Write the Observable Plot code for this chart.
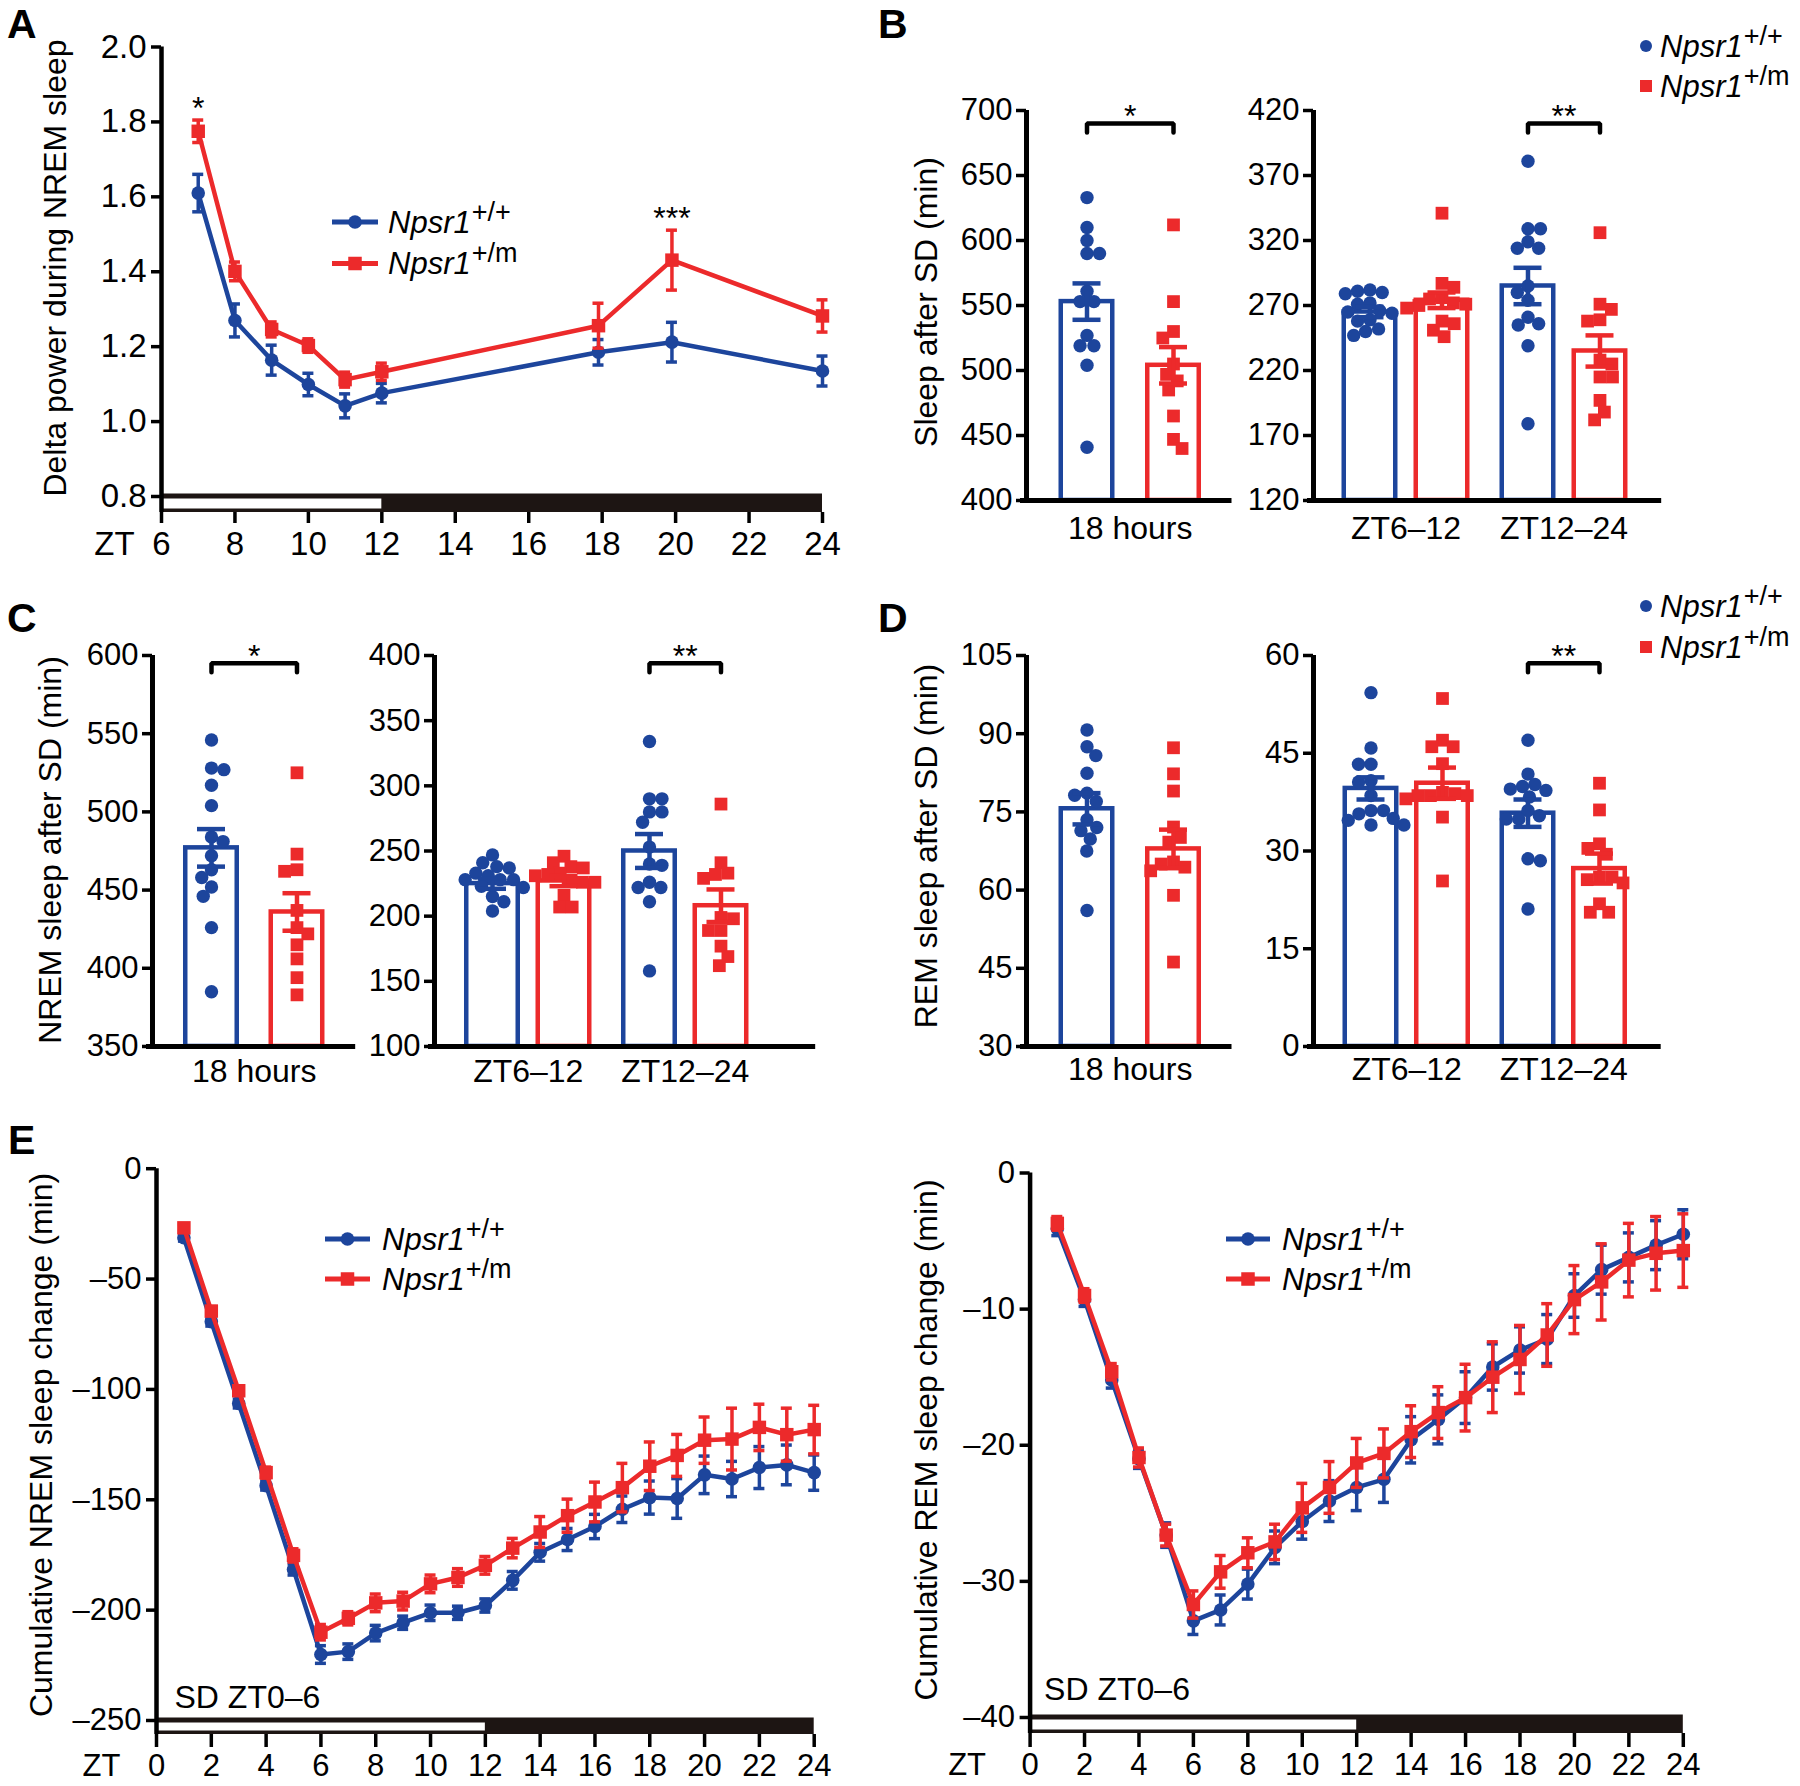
<!DOCTYPE html>
<html>
<head>
<meta charset="utf-8">
<script src="https://cdn.jsdelivr.net/npm/d3@7"></script>
<script src="https://cdn.jsdelivr.net/npm/@observablehq/plot@0.6"></script>
<style>
  html, body { margin: 0; padding: 0; background: #fff; }
  #fig { position: relative; width: 1800px; height: 1786px; overflow: hidden; background: #fff; }
  #fig svg { position: absolute; overflow: visible; }
</style>
</head>
<body>
<div id="fig"></div>
<script>
// ================= DATA =================
const genotypeBase = "Npsr1";
const genotypeSup = ["+/+", "+/m"];
const lightsOff = 12;

// Panel A: delta power during NREM sleep
const ztA = [7, 8, 9, 10, 11, 12, 17.9, 19.9, 24];
const deltaWT = [1.61, 1.27, 1.164, 1.099, 1.042, 1.076, 1.185, 1.212, 1.135];
const deltaWTsem = [0.05, 0.044, 0.04, 0.03, 0.032, 0.026, 0.034, 0.053, 0.04];
const deltaMut = [1.775, 1.401, 1.246, 1.203, 1.112, 1.133, 1.256, 1.431, 1.282];
const deltaMutSem = [0.03, 0.025, 0.02, 0.018, 0.02, 0.023, 0.06, 0.08, 0.043];
const sigA = [{zt: 7, label: "*"}, {zt: 19.9, label: "***"}];
const ticksAy = [0.8, 1.0, 1.2, 1.4, 1.6, 1.8, 2.0];
const ticksAx = [6, 8, 10, 12, 14, 16, 18, 20, 22, 24];

// Bar panel categories
const cat18 = ["18 hours"];
const catLD = ["ZT6–12", "ZT12–24"];

// Panel B: total sleep after SD (min)
const sleep18WT = [633, 610, 600, 590, 590, 561, 553, 553, 527, 519, 519, 504, 441];
const sleep18Mut = [612, 553, 530, 525, 505, 497, 492, 485, 465, 447, 440];
const sleep18Mean = [553, 504];
const sleep18Sem = [14, 14];
const sleepZT6WT = [282, 281, 280, 279, 272, 271, 266, 265, 264, 259, 258, 252, 250, 247];
const sleepZT6Mut = [341, 287, 284, 276, 275, 272, 271, 270, 268, 258, 256, 251, 246];
const sleepZT12WT = [381, 329, 329, 319, 314, 314, 285, 280, 274, 261, 256, 255, 239, 179];
const sleepZT12Mut = [326, 271, 267, 259, 258, 228, 225, 215, 215, 197, 188, 182];
const sleepLDMean = [[265, 274], [285, 235]];
const sleepLDSem = [[4, 6], [14, 12]];
const ticksB18 = [400, 450, 500, 550, 600, 650, 700];
const ticksBLD = [120, 170, 220, 270, 320, 370, 420];
const sigB18 = {g: 0, level: 690, label: "*"};
const sigBLD = {g: 1, level: 410, label: "**"};

// Panel C: NREM sleep after SD (min)
const nrem18WT = [546, 528, 527, 517, 504, 484, 481, 472, 463, 458, 452, 446, 426, 385];
const nrem18Mut = [525, 473, 463, 462, 437, 426, 422, 415, 406, 394, 383];
const nrem18Mean = [477, 436];
const nrem18Sem = [12, 12];
const nremZT6WT = [247, 241, 238, 237, 233, 231, 228, 228, 228, 223, 222, 215, 211, 204];
const nremZT6Mut = [246, 241, 238, 237, 233, 232, 231, 227, 226, 226, 216, 207, 207];
const nremZT12WT = [334, 290, 290, 280, 280, 272, 253, 240, 239, 226, 222, 222, 211, 158];
const nremZT12Mut = [286, 241, 233, 232, 229, 199, 198, 189, 189, 177, 169, 162];
const nremLDMean = [[225, 227], [250, 208]];
const nremLDSem = [[4, 4], [13, 12.5]];
const ticksC18 = [350, 400, 450, 500, 550, 600];
const ticksCLD = [100, 150, 200, 250, 300, 350, 400];
const sigC18 = {g: 0, level: 595, label: "*"};
const sigCLD = {g: 1, level: 394, label: "**"};

// Panel D: REM sleep after SD (min)
const rem18WT = [90.7, 87.5, 85.8, 82.4, 78.6, 78.2, 77, 73.5, 72, 71.4, 69.8, 67.5, 56.1];
const rem18Mut = [87.3, 82.3, 79, 72.1, 70.1, 69.2, 65.4, 65, 64.4, 63.7, 59, 46.2];
const rem18Mean = [75.6, 67.9];
const rem18Sem = [3, 3.7];
const remZT6WT = [54.3, 45.8, 43.3, 43.3, 40.8, 40.6, 38.5, 36.2, 36.2, 35.7, 35, 34.7, 34, 34];
const remZT6Mut = [53.4, 47, 46, 46, 43.4, 39, 38.8, 38.5, 38.5, 38.5, 38, 35.2, 25.4];
const remZT12WT = [47, 41.8, 40.2, 39.9, 39.5, 39.3, 38.3, 36.2, 35.4, 34.9, 34.9, 28.8, 28.5, 21.1];
const remZT12Mut = [40.4, 36.3, 31.1, 30.4, 29.5, 26, 26, 25.6, 25.1, 21.9, 20.6, 20.6];
const remLDMean = [[39.6, 40.4], [35.8, 27.3]];
const remLDSem = [[1.7, 2.4], [2.1, 2.3]];
const ticksD18 = [30, 45, 60, 75, 90, 105];
const ticksDLD = [0, 15, 30, 45, 60];
const sigDLD = {g: 1, level: 58.8, label: "**"};

// Panel E: cumulative sleep change (min)
const ztE = [1, 2, 3, 4, 5, 6, 7, 8, 9, 10, 11, 12, 13, 14, 15, 16, 17, 18, 19, 20, 21, 22, 23, 24];
const cumNremWT = [-31.3, -69.3, -106.4, -143.6, -181.6, -220.1, -218.8, -210.4, -205.7, -201.2, -201.2, -197.9, -186.5, -173.8, -168, -162.1, -154.3, -149, -149.4, -138.7, -140.6, -135.4, -134.2, -137.7];
const cumNremWTsem = [1.5, 2, 2, 2, 2.5, 4, 3.5, 3.5, 3, 3.5, 3, 3, 4, 4, 5, 5.5, 6, 7.5, 9, 8.5, 8, 9.5, 9, 8];
const cumNremMut = [-26.8, -64.5, -100.6, -137.7, -175.2, -210, -203.7, -196.7, -195.9, -188.1, -185.2, -179.7, -171.9, -164.6, -157.2, -151, -144.5, -134.8, -129.9, -123, -122.5, -117.2, -120.5, -118.2];
const cumNremMutSem = [1.5, 2, 2, 2.5, 3, 3.5, 3, 4, 4, 4, 4, 4, 4.4, 7, 7.5, 9, 11, 11, 9.5, 10.5, 14, 10.5, 12, 11];
const cumRemWT = [-4.1, -9.3, -15.2, -21.0, -26.6, -32.9, -32.1, -30.2, -27.5, -25.6, -24.1, -23.1, -22.5, -19.6, -18.1, -16.5, -14.25, -13.0, -12.2, -9.0, -7.1, -6.2, -5.3, -4.5];
const cumRemWTsem = [0.5, 0.5, 0.6, 0.7, 0.9, 1.0, 1.1, 1.1, 1.2, 1.3, 1.5, 1.7, 1.7, 1.7, 1.8, 1.9, 1.7, 1.7, 1.8, 1.6, 1.8, 1.8, 1.8, 1.8];
const cumRemMut = [-3.7, -9.0, -14.6, -20.9, -26.6, -31.7, -29.3, -27.9, -27.1, -24.6, -23.1, -21.3, -20.6, -19.0, -17.6, -16.5, -15.0, -13.7, -11.9, -9.3, -8.0, -6.4, -5.9, -5.7];
const cumRemMutSem = [0.5, 0.5, 0.6, 0.7, 0.8, 1.0, 1.2, 1.1, 1.3, 1.8, 1.9, 1.8, 1.8, 1.9, 1.9, 2.45, 2.6, 2.5, 2.3, 2.5, 2.8, 2.7, 2.7, 2.7];
const ticksENrem = [-250, -200, -150, -100, -50, 0];
const ticksERem = [-40, -30, -20, -10, 0];
const ticksEx = [0, 2, 4, 6, 8, 10, 12, 14, 16, 18, 20, 22, 24];
const sdLabel = "SD ZT0–6";

// ================= STYLE =================
const FONT = "'Liberation Sans', Arial, Helvetica, sans-serif";
const BLUE = "#1d459c", RED = "#ec2a2b", INK = "#000", DARK = "#1d1513";
const fig = document.getElementById("fig");
const dashFmt = d => d < 0 ? "–" + (-d) : String(d);
const plotStyle = {fontFamily: FONT, color: INK, background: "transparent", overflow: "visible"};

function place(svg, x, y) {
  svg.style.left = x + "px";
  svg.style.top = y + "px";
  fig.appendChild(svg);
}

// deterministic beeswarm offsets (px)
function swarmOffsets(vals, pxPerUnit, d) {
  const order = d3.range(vals.length).sort((a, b) => d3.descending(vals[a], vals[b]));
  const placed = [], out = new Array(vals.length);
  order.forEach((i, n) => {
    const y = vals[i] * pxPerUnit;
    const cands = [0];
    for (const p of placed) {
      const dy = Math.abs(p.y - y);
      if (dy < d) { const dx = Math.sqrt(d * d - dy * dy); cands.push(p.x + dx, p.x - dx); }
    }
    const ok = cands.filter(x => placed.every(p => (p.x - x) ** 2 + (p.y - y) ** 2 >= d * d - 1e-6));
    ok.sort((a, b) => (Math.abs(a) - Math.abs(b)) || (n % 2 ? a - b : b - a));
    const x = ok.length ? ok[0] : d3.max(placed, p => p.x) + d;
    placed.push({x, y});
    out[i] = x;
  });
  return out;
}

// ================= TIME-COURSE CHARTS =================
function timeCourse(cfg) {
  const {box, xDomain, xPx, yTicks, yPxTop, yPxLow, barBottom, xTicks, fmtY, series, sig, sd, ztDx, xTick, tickFont} = cfg;
  const yLo = yTicks[0], yHi = yTicks[yTicks.length - 1];
  const pxPerY = (yPxLow - yPxTop) / (yHi - yLo);
  const yMin = yLo - (barBottom - yPxLow) / pxPerY;
  const pxPerX = (xPx[1] - xPx[0]) / (xDomain[1] - xDomain[0]);
  const capX = 5.5 / pxPerX;
  const marks = [
    Plot.rect([0], {x1: xDomain[0], x2: xDomain[1], y1: yMin, y2: yLo, insetTop: -2.5, fill: DARK}),
    Plot.rect([0], {x1: xDomain[0], x2: lightsOff, y1: yMin, y2: yLo, insetTop: 2.5, insetBottom: 3.5, insetLeft: 2, fill: "white"})
  ];
  series.forEach(s => {
    const data = s.x.map((x, i) => ({x, y: s.v[i], e: s.e[i]}));
    marks.push(
      Plot.ruleX(data, {x: "x", y1: d => d.y - d.e, y2: d => d.y + d.e, stroke: s.color, strokeWidth: 3.5}),
      Plot.ruleY(data, {y: d => d.y + d.e, x1: d => d.x - capX, x2: d => d.x + capX, stroke: s.color, strokeWidth: 3.5}),
      Plot.ruleY(data, {y: d => d.y - d.e, x1: d => d.x - capX, x2: d => d.x + capX, stroke: s.color, strokeWidth: 3.5}),
      Plot.line(data, {x: "x", y: "y", stroke: s.color, strokeWidth: 4.5}),
      Plot.dot(data, {x: "x", y: "y", r: s.square ? 7.6 : 6.8, symbol: s.square ? "square" : "circle", fill: s.color})
    );
  });
  marks.push(
    Plot.ruleX([xDomain[0]], {y1: yMin, y2: yHi, stroke: INK, strokeWidth: 4.5}),
    Plot.axisY(yTicks, {tickSize: 10, tickPadding: 5, fontSize: tickFont, strokeWidth: 3.5, tickFormat: fmtY, label: null}),
    Plot.axisX(xTicks, {tickSize: xTick.size, tickPadding: xTick.pad, fontSize: tickFont, strokeWidth: 3.5, tickFormat: d => String(d), label: null}),
    Plot.text(["ZT"], {x: xDomain[0], y: yMin, text: d => d, dx: ztDx, dy: xTick.size + xTick.pad, lineAnchor: "top", fontSize: tickFont})
  );
  if (sig) {
    marks.push(Plot.text(sig, {
      x: "zt",
      y: d => d3.max(series, s => { const i = s.x.indexOf(d.zt); return s.v[i] + s.e[i]; }),
      text: "label", dy: -11, fontSize: 32, lineAnchor: "middle"
    }));
  }
  if (sd) {
    marks.push(Plot.text([sd.text], {frameAnchor: "bottom-left", text: d => d, dx: sd.dx, dy: sd.dy, textAnchor: "start", lineAnchor: "middle", fontSize: 32}));
  }
  const svg = Plot.plot({
    width: box.w, height: box.h,
    marginLeft: xPx[0] - box.x, marginRight: box.x + box.w - xPx[1],
    marginTop: yPxTop - box.y, marginBottom: box.y + box.h - barBottom,
    x: {domain: xDomain},
    y: {domain: [yMin, yHi]},
    style: plotStyle,
    marks
  });
  place(svg, box.x, box.y);
}

// ================= BAR + DOT CHARTS =================
function barPanel(cfg) {
  const {axisX, axisEnd, yPxTop, yPxBot, yTicks, cats, wt, mut, mean, sem, sig, first, pair, group, labelDy} = cfg;
  const box = {x: axisX - 120, y: yPxTop - 70, w: axisEnd - axisX + 130, h: yPxBot - yPxTop + 130};
  const yLo = yTicks[0], yHi = yTicks[yTicks.length - 1];
  const pxPerY = (yPxBot - yPxTop) / (yHi - yLo);
  const xMax = axisEnd - axisX;
  const center = (g, k) => first + g * (group || 0) + k * pair;
  const bars = [], dots = [];
  cats.forEach((c, g) => [wt[g], mut[g]].forEach((vals, k) => {
    const cx = center(g, k);
    bars.push({k, cx, m: mean[g][k], e: sem[g][k]});
    const off = swarmOffsets(vals, pxPerY, 12.5);
    vals.forEach((v, i) => dots.push({k, x: cx + off[i], v}));
  }));
  const marks = [];
  [0, 1].forEach(k => {
    const B = bars.filter(b => b.k === k), col = k ? RED : BLUE;
    marks.push(Plot.rect(B, {x1: d => d.cx - 25.75, x2: d => d.cx + 25.75, y1: yLo, y2: "m", fill: "white", stroke: col, strokeWidth: 4.5}));
  });
  marks.push(
    Plot.dot(dots.filter(d => !d.k), {x: "x", y: "v", r: 6.7, fill: BLUE}),
    Plot.dot(dots.filter(d => d.k), {x: "x", y: "v", r: 7.2, symbol: "square", fill: RED})
  );
  [0, 1].forEach(k => {
    const B = bars.filter(b => b.k === k), col = k ? RED : BLUE;
    marks.push(
      Plot.ruleX(B, {x: "cx", y1: d => d.m - d.e, y2: d => d.m + d.e, stroke: col, strokeWidth: 4.5}),
      Plot.ruleY(B, {y: d => d.m + d.e, x1: d => d.cx - 14, x2: d => d.cx + 14, stroke: col, strokeWidth: 4.5}),
      Plot.ruleY(B, {y: d => d.m - d.e, x1: d => d.cx - 14, x2: d => d.cx + 14, stroke: col, strokeWidth: 4.5})
    );
  });
  marks.push(
    Plot.ruleY([yLo], {x1: -6, x2: xMax, stroke: INK, strokeWidth: 5}),
    Plot.ruleX([0], {y1: yLo, y2: yHi, stroke: INK, strokeWidth: 5}),
    Plot.axisY(yTicks, {tickSize: 10, tickPadding: 4, fontSize: 31, strokeWidth: 3.5, label: null}),
    Plot.text(cats, {x: (d, i) => center(i, 0) + pair / 2, y: yLo, text: d => d, dy: labelDy, lineAnchor: "middle", fontSize: 32})
  );
  if (sig) {
    const c1 = center(sig.g, 0), c2 = center(sig.g, 1), leg = 9 / pxPerY;
    const pts = [{x: c1, y: sig.level - leg}, {x: c1, y: sig.level}, {x: c2, y: sig.level}, {x: c2, y: sig.level - leg}];
    marks.push(
      Plot.line(pts, {x: "x", y: "y", stroke: INK, strokeWidth: 4.5, strokeLinejoin: "miter"}),
      Plot.text([sig], {x: (c1 + c2) / 2, y: "level", text: "label", dy: -7, fontSize: 32, lineAnchor: "middle"})
    );
  }
  const svg = Plot.plot({
    width: box.w, height: box.h,
    marginLeft: axisX - box.x, marginRight: box.x + box.w - axisEnd,
    marginTop: yPxTop - box.y, marginBottom: box.y + box.h - yPxBot,
    x: {domain: [0, xMax], axis: null},
    y: {domain: [yLo, yHi]},
    style: plotStyle,
    marks
  });
  place(svg, box.x, box.y);
}

// ================= BUILD =================
timeCourse({
  box: {x: 0, y: 0, w: 850, h: 575},
  xDomain: [6, 24], xPx: [161, 822],
  yTicks: ticksAy, yPxTop: 46.5, yPxLow: 496, barBottom: 512,
  xTicks: ticksAx, fmtY: d3.format(".1f"),
  series: [
    {x: ztA, v: deltaWT, e: deltaWTsem, color: BLUE, square: false},
    {x: ztA, v: deltaMut, e: deltaMutSem, color: RED, square: true}
  ],
  sig: sigA, ztDx: -47, xTick: {size: 11, pad: 8}, tickFont: 33
});

const left18 = {first: 60.5, pair: 86.5, group: 0};
const rightLD = {first: 57.5, pair: 71.5, group: 157};
barPanel({axisX: 1025.5, axisEnd: 1231, yPxTop: 110, yPxBot: 500, yTicks: ticksB18, cats: cat18,
  wt: [sleep18WT], mut: [sleep18Mut], mean: [sleep18Mean], sem: [sleep18Sem], sig: sigB18, ...left18, labelDy: 28});
barPanel({axisX: 1312.8, axisEnd: 1661, yPxTop: 110, yPxBot: 500, yTicks: ticksBLD, cats: catLD,
  wt: [sleepZT6WT, sleepZT12WT], mut: [sleepZT6Mut, sleepZT12Mut], mean: sleepLDMean, sem: sleepLDSem, sig: sigBLD,
  first: 56.5, pair: 72, group: 158, labelDy: 28});
barPanel({axisX: 151.8, axisEnd: 355, yPxTop: 655, yPxBot: 1046, yTicks: ticksC18, cats: cat18,
  wt: [nrem18WT], mut: [nrem18Mut], mean: [nrem18Mean], sem: [nrem18Sem], sig: sigC18, first: 59, pair: 85.5, group: 0, labelDy: 25});
barPanel({axisX: 433.8, axisEnd: 815, yPxTop: 655, yPxBot: 1046, yTicks: ticksCLD, cats: catLD,
  wt: [nremZT6WT, nremZT12WT], mut: [nremZT6Mut, nremZT12Mut], mean: nremLDMean, sem: nremLDSem, sig: sigCLD,
  first: 58, pair: 71.5, group: 157, labelDy: 25});
barPanel({axisX: 1025.5, axisEnd: 1231, yPxTop: 655, yPxBot: 1046, yTicks: ticksD18, cats: cat18,
  wt: [rem18WT], mut: [rem18Mut], mean: [rem18Mean], sem: [rem18Sem], sig: null, ...left18, labelDy: 23});
barPanel({axisX: 1313.3, axisEnd: 1661, yPxTop: 655, yPxBot: 1046, yTicks: ticksDLD, cats: catLD,
  wt: [remZT6WT, remZT12WT], mut: [remZT6Mut, remZT12Mut], mean: remLDMean, sem: remLDSem, sig: sigDLD,
  ...rightLD, labelDy: 23});

timeCourse({
  box: {x: 0, y: 1110, w: 860, h: 676},
  xDomain: [0, 24], xPx: [156, 813.7],
  yTicks: ticksENrem, yPxTop: 1168.2, yPxLow: 1720, barBottom: 1734,
  xTicks: ticksEx, fmtY: dashFmt,
  series: [
    {x: ztE, v: cumNremWT, e: cumNremWTsem, color: BLUE, square: false},
    {x: ztE, v: cumNremMut, e: cumNremMutSem, color: RED, square: true}
  ],
  sd: {text: sdLabel, dx: 18, dy: -37}, ztDx: -55, xTick: {size: 13, pad: 6}, tickFont: 31
});
timeCourse({
  box: {x: 880, y: 1110, w: 900, h: 676},
  xDomain: [0, 24], xPx: [1029.6, 1682.8],
  yTicks: ticksERem, yPxTop: 1172.5, yPxLow: 1717, barBottom: 1733,
  xTicks: ticksEx, fmtY: dashFmt,
  series: [
    {x: ztE, v: cumRemWT, e: cumRemWTsem, color: BLUE, square: false},
    {x: ztE, v: cumRemMut, e: cumRemMutSem, color: RED, square: true}
  ],
  sd: {text: sdLabel, dx: 14, dy: -44}, ztDx: -63, xTick: {size: 14, pad: 5}, tickFont: 31
});

// ================= ANNOTATIONS (letters, titles, legends) =================
const ov = d3.create("svg").attr("width", 1800).attr("height", 1786)
  .style("left", "0px").style("top", "0px").style("pointer-events", "none")
  .attr("font-family", FONT).attr("fill", INK);

[["A", 7, 38], ["B", 878, 38], ["C", 7, 632], ["D", 878, 632], ["E", 8, 1154]].forEach(([t, x, y]) =>
  ov.append("text").attr("x", x).attr("y", y).attr("font-weight", "bold").attr("font-size", 41).text(t));

[["Delta power during NREM sleep", 56, 268],
 ["Sleep after SD (min)", 927, 302],
 ["NREM sleep after SD (min)", 51, 850],
 ["REM sleep after SD (min)", 927, 846],
 ["Cumulative NREM sleep change (min)", 42, 1445],
 ["Cumulative REM sleep change (min)", 927, 1440]].forEach(([t, x, y]) =>
  ov.append("text").attr("transform", `translate(${x},${y}) rotate(-90)`).attr("text-anchor", "middle")
    .attr("dy", "0.3em").attr("font-size", 32).text(t));

function legendEntry(k, y, tx, line) {
  const col = k ? RED : BLUE;
  let cx;
  if (line) {
    ov.append("line").attr("x1", line[0]).attr("x2", line[1]).attr("y1", y).attr("y2", y)
      .attr("stroke", col).attr("stroke-width", 5);
    cx = (line[0] + line[1]) / 2;
  } else {
    cx = tx - 14;
  }
  if (k) {
    const s = line ? 13.5 : 12;
    ov.append("rect").attr("x", cx - s / 2).attr("y", y - s / 2).attr("width", s).attr("height", s).attr("fill", col);
  } else {
    ov.append("circle").attr("cx", cx).attr("cy", y).attr("r", line ? 6.8 : 6).attr("fill", col);
  }
  const t = ov.append("text").attr("x", tx).attr("y", y + 10.5).attr("font-size", 31).attr("font-style", "italic").text(genotypeBase);
  t.append("tspan").attr("font-style", "normal").attr("font-size", 27).attr("dx", 1).attr("dy", -12).text(genotypeSup[k]);
}
legendEntry(0, 222, 388, [332, 378]);
legendEntry(1, 263.5, 388, [332, 378]);
legendEntry(0, 46, 1660, null);
legendEntry(1, 86, 1660, null);
legendEntry(0, 606, 1660, null);
legendEntry(1, 647, 1660, null);
legendEntry(0, 1239, 382, [325, 370]);
legendEntry(1, 1279, 382, [325, 370]);
legendEntry(0, 1239, 1282, [1226, 1270]);
legendEntry(1, 1279, 1282, [1226, 1270]);

fig.appendChild(ov.node());
</script>
</body>
</html>
